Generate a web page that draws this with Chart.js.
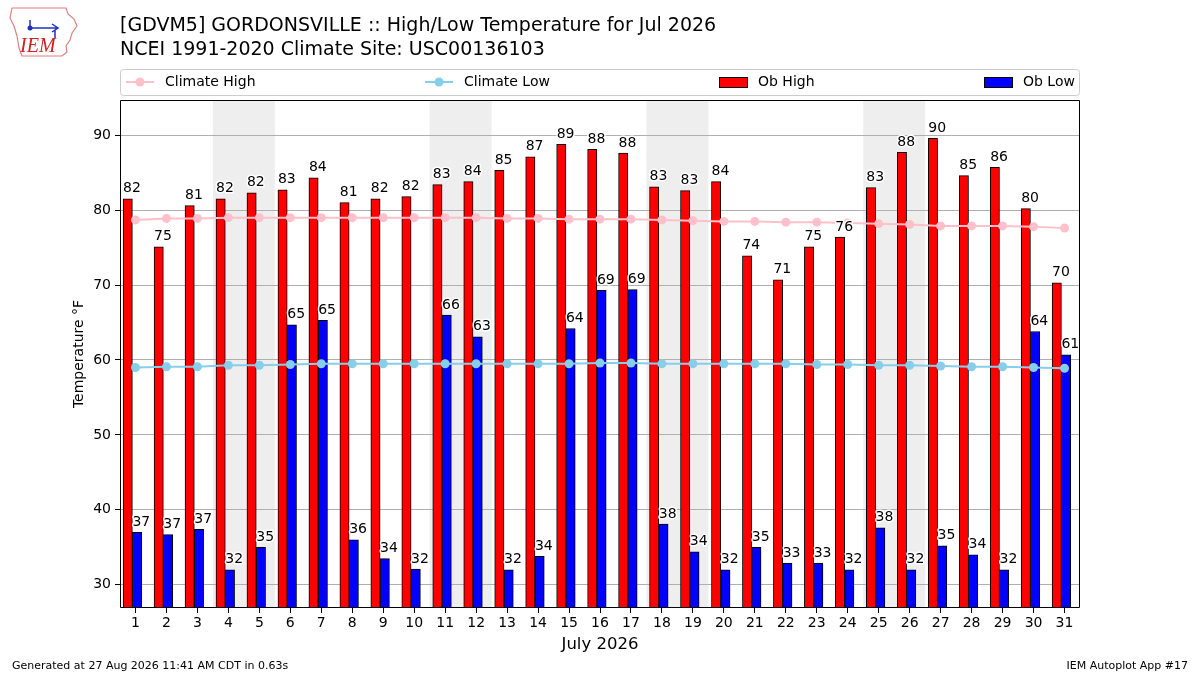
<!DOCTYPE html>
<html>
<head>
<meta charset="utf-8">
<script src="https://cdn.jsdelivr.net/npm/chart.js@4.4.1/dist/chart.umd.min.js"></script>
<style>
  html, body { margin: 0; padding: 0; background: #fff; }
  #wrap { width: 1200px; height: 675px; }
</style>
</head>
<body>
<div id="wrap"><canvas id="myChart" width="1200" height="675"></canvas></div>
<script>
// July 2026, GDVM5 Gordonsville
const days = [1, 2, 3, 4, 5, 6, 7, 8, 9, 10, 11, 12, 13, 14, 15, 16, 17, 18, 19, 20, 21, 22, 23, 24, 25, 26, 27, 28, 29, 30, 31];
const obHigh = [81.5, 75.1, 80.6, 81.5, 82.3, 82.7, 84.3, 81.0, 81.5, 81.8, 83.4, 83.8, 85.3, 87.1, 88.8, 88.1, 87.6, 83.1, 82.6, 83.8, 73.9, 70.7, 75.1, 76.4, 83.0, 87.7, 89.6, 84.6, 85.7, 80.2, 70.3];
const obLow = [37.0, 36.7, 37.4, 32.0, 35.0, 64.7, 65.3, 36.0, 33.5, 32.1, 66.0, 63.1, 32.0, 33.8, 64.2, 69.3, 69.4, 38.1, 34.4, 32.0, 35.0, 32.9, 32.9, 32.0, 37.6, 32.0, 35.2, 34.0, 32.0, 63.8, 60.7];
const climateHigh = [78.7, 78.9, 78.9, 79.0, 79.0, 79.0, 79.0, 79.0, 79.0, 79.0, 79.0, 79.0, 78.9, 78.9, 78.8, 78.8, 78.8, 78.7, 78.6, 78.5, 78.5, 78.4, 78.4, 78.3, 78.2, 78.1, 77.9, 77.9, 77.9, 77.8, 77.6];
const climateLow = [59.0, 59.1, 59.1, 59.3, 59.3, 59.4, 59.5, 59.5, 59.5, 59.5, 59.5, 59.5, 59.5, 59.5, 59.5, 59.6, 59.6, 59.5, 59.5, 59.5, 59.5, 59.5, 59.4, 59.4, 59.3, 59.3, 59.2, 59.1, 59.1, 59.0, 58.9];
const yTicks = [30, 40, 50, 60, 70, 80, 90];
const weekends = [[4, 5], [11, 12], [18, 19], [25, 26]];

const titleLines = ['[GDVM5] GORDONSVILLE :: High/Low Temperature for Jul 2026', 'NCEI 1991-2020 Climate Site: USC00136103'];
const FONT = '"DejaVu Sans", sans-serif';

const decor = {
    id: 'decor',
    beforeDraw(chart) {
        const c = chart.ctx, a = chart.chartArea, x = chart.scales.x;
        c.save();
        c.fillStyle = '#fff';
        c.fillRect(0, 0, chart.width, chart.height);
        // weekend shading
        c.fillStyle = '#eeeeee';
        weekends.forEach(w => {
            const x0 = x.getPixelForValue(w[0] - 0.5), x1 = x.getPixelForValue(w[1] + 0.5);
            c.fillRect(x0, a.top, x1 - x0, a.bottom - a.top);
        });
        // titles
        c.fillStyle = '#000';
        c.textBaseline = 'alphabetic';
        c.textAlign = 'left';
        c.font = '19px ' + FONT;
        c.fillText(titleLines[0], 120, 31);
        c.fillText(titleLines[1], 120, 55);
        // logo
        c.strokeStyle = '#e08080';
        c.lineWidth = 1.2;
        c.beginPath();
        c.moveTo(12, 8); c.lineTo(66, 8); c.lineTo(68, 14); c.lineTo(74, 19); c.lineTo(77, 26);
        c.lineTo(72, 33); c.lineTo(70, 40); c.lineTo(66, 46); c.lineTo(67, 52); c.lineTo(62, 56);
        c.lineTo(22, 56); c.lineTo(19, 48); c.lineTo(17, 36); c.lineTo(14, 26); c.lineTo(10, 18); c.closePath();
        c.stroke();
        c.strokeStyle = '#2030c0';
        c.lineWidth = 1.5;
        c.beginPath();
        c.moveTo(30, 28); c.lineTo(58, 28); c.moveTo(52, 24); c.lineTo(58, 28); c.lineTo(52, 32);
        c.moveTo(30, 20); c.lineTo(30, 30); c.moveTo(55, 30); c.lineTo(55, 38);
        c.stroke();
        c.fillStyle = '#2030c0';
        c.beginPath(); c.arc(30, 28, 2.5, 0, Math.PI * 2); c.fill();
        c.fillStyle = '#d02020';
        c.font = 'italic 20px "Liberation Serif", serif';
        c.fillText('IEM', 20, 52);
        // legend
        c.fillStyle = 'rgba(255,255,255,0.8)';
        c.strokeStyle = '#cccccc';
        c.lineWidth = 1;
        c.beginPath();
        c.roundRect(120.5, 69.5, 959, 26, 3);
        c.fill(); c.stroke();
        const ly = 82;
        const lineItems = [['Climate High', 'pink', 126, 165], ['Climate Low', 'skyblue', 425, 464]];
        lineItems.forEach(it => {
            c.strokeStyle = it[1]; c.fillStyle = it[1]; c.lineWidth = 2;
            c.beginPath(); c.moveTo(it[2], ly); c.lineTo(it[2] + 28, ly); c.stroke();
            c.beginPath(); c.arc(it[2] + 14, ly, 4.5, 0, Math.PI * 2); c.fill();
        });
        const boxItems = [['Ob High', 'red', 719, 758], ['Ob Low', 'blue', 984, 1023]];
        boxItems.forEach(it => {
            c.fillStyle = it[1]; c.strokeStyle = '#000'; c.lineWidth = 1;
            c.fillRect(it[2], ly - 5, 28, 10);
            c.strokeRect(it[2] + 0.5, ly - 4.5, 28, 10);
        });
        c.fillStyle = '#000';
        c.font = '14px ' + FONT;
        c.textBaseline = 'middle';
        lineItems.concat(boxItems).forEach(it => c.fillText(it[0], it[3], ly));
        // axis titles
        c.textAlign = 'center';
        c.font = '16.5px ' + FONT;
        c.fillText('July 2026', (a.left + a.right) / 2, 645);
        c.save();
        c.translate(79, (a.top + a.bottom) / 2);
        c.rotate(-Math.PI / 2);
        c.font = '14px ' + FONT;
        c.fillText('Temperature \u00b0F', 0, 0);
        c.restore();
        // footer
        c.font = '11px ' + FONT;
        c.textBaseline = 'alphabetic';
        c.textAlign = 'left';
        c.fillText('Generated at 27 Aug 2026 11:41 AM CDT in 0.63s', 12, 669);
        c.textAlign = 'right';
        c.fillText('IEM Autoplot App #17', 1188, 669);
        c.restore();
    },
    afterDraw(chart) {
        const c = chart.ctx, a = chart.chartArea;
        c.save();
        // value labels on bars
        c.font = '14px ' + FONT;
        c.textAlign = 'left';
        c.textBaseline = 'alphabetic';
        c.lineJoin = 'round';
        [0, 1].forEach(i => {
            const vals = chart.data.datasets[i].rawValues;
            chart.getDatasetMeta(i).data.forEach((el, j) => {
                const t = String(Math.round(vals[j]));
                const tx = el.x - el.width / 2, ty = el.y - 6.5;
                c.strokeStyle = '#fff'; c.lineWidth = 3;
                c.strokeText(t, tx, ty);
                c.fillStyle = '#000';
                c.fillText(t, tx, ty);
            });
        });
        // axes frame
        c.strokeStyle = '#000';
        c.lineWidth = 1;
        c.strokeRect(Math.round(a.left) + 0.5, Math.round(a.top) + 0.5, Math.round(a.right - a.left) - 1, Math.round(a.bottom - a.top) - 1);
        c.restore();
    }
};

const ctx = document.getElementById('myChart').getContext('2d');
new Chart(ctx, {
    data: {
        datasets: [
            {
                type: 'bar',
                label: 'Ob High',
                rawValues: obHigh,
                data: days.map((d, i) => ({ x: d - 0.25, y: obHigh[i] })),
                backgroundColor: 'red',
                borderColor: '#000',
                borderWidth: 1,
                barThickness: 9.3,
                grouped: false,
                order: 2
            },
            {
                type: 'bar',
                label: 'Ob Low',
                rawValues: obLow,
                data: days.map((d, i) => ({ x: d + 0.05, y: obLow[i] })),
                backgroundColor: 'blue',
                borderColor: '#000',
                borderWidth: 1,
                barThickness: 9.3,
                grouped: false,
                order: 2
            },
            {
                type: 'line',
                label: 'Climate High',
                data: days.map((d, i) => ({ x: d, y: climateHigh[i] })),
                borderColor: 'pink',
                backgroundColor: 'pink',
                borderWidth: 2,
                pointRadius: 4.5,
                pointBorderWidth: 0,
                pointBackgroundColor: 'pink',
                tension: 0,
                order: 1
            },
            {
                type: 'line',
                label: 'Climate Low',
                data: days.map((d, i) => ({ x: d, y: climateLow[i] })),
                borderColor: 'skyblue',
                backgroundColor: 'skyblue',
                borderWidth: 2,
                pointRadius: 4.5,
                pointBorderWidth: 0,
                pointBackgroundColor: 'skyblue',
                tension: 0,
                order: 1
            }
        ]
    },
    options: {
        responsive: false,
        animation: false,
        devicePixelRatio: 1,
        layout: { padding: { top: 100, left: 0, right: 120, bottom: 0 } },
        plugins: {
            legend: { display: false },
            title: { display: false },
            tooltip: { enabled: false }
        },
        scales: {
            x: {
                type: 'linear',
                offset: false,
                min: 0.5,
                max: 31.5,
                afterBuildTicks: s => { s.ticks = days.map(v => ({ value: v })); },
                afterFit: s => { s.height = 67; },
                grid: { offset: false, drawOnChartArea: false, tickLength: 5, tickColor: '#000' },
                border: { display: false },
                ticks: { color: '#000', font: { family: FONT, size: 14 }, padding: 2, maxRotation: 0, autoSkip: false }
            },
            y: {
                min: 26.9,
                max: 94.7,
                afterBuildTicks: s => { s.ticks = yTicks.map(v => ({ value: v })); },
                afterFit: s => { s.width = 120; },
                grid: { color: '#b0b0b0', lineWidth: 1, tickLength: 5, tickColor: '#000' },
                border: { display: false },
                ticks: { color: '#000', font: { family: FONT, size: 14 }, padding: 4 }
            }
        }
    },
    plugins: [decor]
});
</script>
</body>
</html>
